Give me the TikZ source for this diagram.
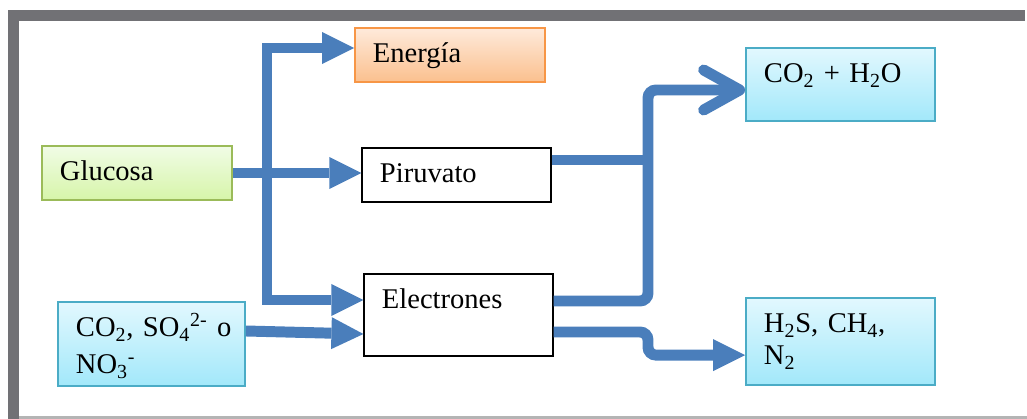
\documentclass[tikz,border=0pt]{standalone}
\usepackage{fontspec}
\setmainfont{Liberation Serif}
\usetikzlibrary{arrows.meta}
\definecolor{flowblue}{HTML}{4A7EBB}
\definecolor{framegray}{HTML}{717175}
\definecolor{linegray}{HTML}{B4B4B4}
\definecolor{orangeline}{HTML}{F79646}
\definecolor{orangetop}{HTML}{FEEADB}
\definecolor{orangebot}{HTML}{FBC08E}
\definecolor{greenline}{HTML}{9BBB59}
\definecolor{greentop}{HTML}{F1FCE6}
\definecolor{greenbot}{HTML}{D6F5A9}
\definecolor{cyanline}{HTML}{4BACC6}
\definecolor{cyantop}{HTML}{E2F8FE}
\definecolor{cyanbot}{HTML}{A2E8FA}
\tikzset{
  box/.style={draw=black, line width=0.8pt, fill=white, inner xsep=0.45cm, inner ysep=0pt,
    text height=0.875cm, align=left, font=\fontsize{20.3}{22.7}\selectfont},
  orangebox/.style={box, draw=orangeline, line width=1.2pt, top color=orangetop, bottom color=orangebot},
  greenbox/.style={box, draw=greenline, line width=1.2pt, top color=greentop, bottom color=greenbot},
  cyanbox/.style={box, draw=cyanline, line width=1.2pt, top color=cyantop, bottom color=cyanbot},
  flow/.style={draw=flowblue, line width=7.8pt},
  blockhead/.tip={Triangle[length=8mm,width=8mm,line width=0pt]},
  barbhead/.tip={Straight Barb[length=9mm,width=10mm,line width=7.8pt,round]}
}
\begin{document}
\begin{tikzpicture}[x=0.025cm,y=-0.025cm]
\useasboundingbox (0,0) rectangle (1027,419);
% frame
\fill[framegray] (8,10) rectangle (1025,21);
\fill[framegray] (8,10) rectangle (19,419);
\draw[linegray, line width=1.5pt] (19,417.5) -- (1027,417.5);

% boxes
\node[greenbox, text width=3.85cm, text depth=0.475cm] (glucosa) at (137,173) {Glucosa};
\node[orangebox, text width=3.85cm, text depth=0.475cm] (energia) at (450,55) {Energía};
\node[box, text width=3.825cm, text depth=0.475cm] (piruvato) at (456.5,175) {Piruvato};
\node[box, text width=3.825cm, text depth=1.175cm] (electrones) at (458.5,315) {Electrones};
\node[cyanbox, text width=3.825cm, text depth=0.95cm] (coh) at (840.5,84.5) {CO\textsubscript{2} + H\textsubscript{2}O};
\node[cyanbox, text width=3.825cm, text depth=1.3cm] (sulf) at (840.5,341.5)
  {\begin{tabular}[t]{@{}l@{}}H\textsubscript{2}S, CH\textsubscript{4},\\ N\textsubscript{2}\end{tabular}};
\node[cyanbox, text width=3.775cm, text depth=1.225cm] (aceptor) at (151.5,344)
  {\begin{tabular}[t]{@{}l@{}}CO\textsubscript{2}, SO\textsubscript{4}\textsuperscript{2-} o\\[3.5pt] NO\textsubscript{3}\textsuperscript{-}\end{tabular}};

% trunk and bends
\coordinate (split) at (267,48);
\coordinate (base) at (267,300);
\coordinate (risetop) at (648,90);
\coordinate (risebot) at (648,301);
\coordinate (pv) at ([yshift=3.75mm]piruvato.east);
\coordinate (eup) at ([yshift=3.5mm]electrones.east);
\coordinate (edown) at ([yshift=-4.25mm]electrones.east);
\coordinate (sin) at ([yshift=-3.4mm]sulf.west);

\draw[flow, blockhead-blockhead] (split -| energia.west) -- (split) -- (base) -- (base -| electrones.west);
\draw[flow, -blockhead] (glucosa.east) -- (glucosa.east -| piruvato.west);
\draw[flow, -blockhead] ([yshift=3.25mm]aceptor.east) -- ([yshift=-4.75mm]electrones.west);

\draw[flow] (pv) -- (pv -| risetop);
\draw[flow, rounded corners=2mm, -barbhead] (eup) -- (risebot) -- (risetop) -- (risetop -| coh.west);
\draw[flow, rounded corners=2mm, -blockhead] (edown) -| (risebot |- sin) -- (sin);
\end{tikzpicture}
\end{document}
